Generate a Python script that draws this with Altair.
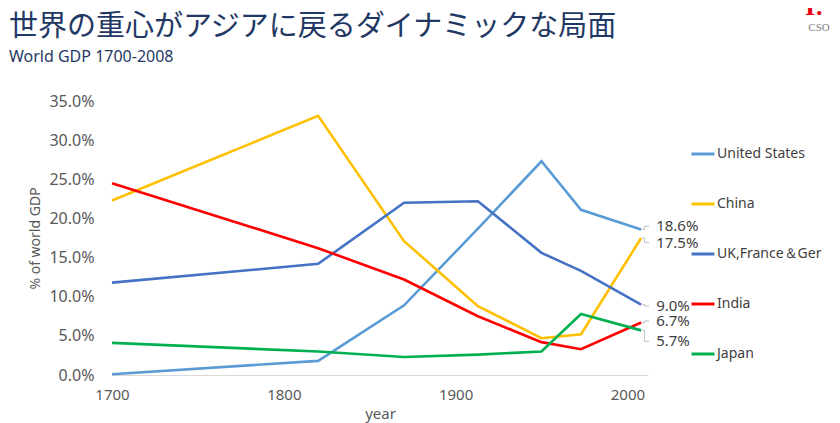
import altair as alt
import pandas as pd

years = [1700, 1820, 1870, 1913, 1950, 1973, 2008]
series_names = ["United States", "China", "UK,France＆Ger", "India", "Japan"]
us = [0.1, 1.8, 8.9, 18.7, 27.3, 21.1, 18.6]
china = [22.3, 33.1, 17.1, 8.8, 4.7, 5.2, 17.5]
ukfg = [11.8, 14.2, 22.0, 22.2, 15.6, 13.3, 9.0]
india = [24.5, 16.2, 12.2, 7.5, 4.2, 3.3, 6.7]
japan = [4.1, 3.0, 2.3, 2.6, 3.0, 7.8, 5.7]
colors = ["#5B9BD5", "#FFC000", "#4472C4", "#FF0000", "#00B050"]
# vertical nudge (percentage points) of the end labels so they don't overlap
label_nudge = [0.4, -0.6, -0.2, 0.2, -1.4]
y_ticks = [0, 0.05, 0.1, 0.15, 0.2, 0.25, 0.3, 0.35]
x_ticks = [1700, 1800, 1900, 2000]

title_text = "世界の重心がアジアに戻るダイナミックな局面"
subtitle_text = "World GDP 1700-2008"

all_vals = [us, china, ukfg, india, japan]
rows = []
for name, vals in zip(series_names, all_vals):
    for y, v in zip(years, vals):
        rows.append({"year": y, "share": v / 100.0, "series": name})
df = pd.DataFrame(rows)

end_rows = []
lead_rows = []
for i, (name, vals) in enumerate(zip(series_names, all_vals)):
    v = vals[-1] / 100.0
    lab = (vals[-1] + label_nudge[i]) / 100.0
    end_rows.append({"year": years[-1], "share": lab, "series": name,
                     "txt": f"{vals[-1]:.1f}%"})
    for k, (xx, yy) in enumerate([(2008.6, v), (2010.0, v), (2010.0, lab), (2012.6, lab)]):
        lead_rows.append({"year": xx, "share": yy, "series": name, "o": k})
end_df = pd.DataFrame(end_rows)
lead_df = pd.DataFrame(lead_rows)

FONT = "Noto Sans"
xscale = alt.Scale(domain=[1700, 2012], nice=False, zero=False)
yscale = alt.Scale(domain=[0, 0.35], nice=False)

x_axis = alt.Axis(values=x_ticks, format="d", title="year",
                  grid=False, ticks=False, domainColor="#D9D9D9", domainWidth=1.2,
                  labelColor="#595959", labelFontSize=15, labelFont=FONT,
                  labelPadding=12, labelFlush=False, labelOverlap=False,
                  titleFont=FONT, titleFontSize=15,
                  titleFontWeight="normal", titleColor="#595959", titlePadding=4)
y_axis = alt.Axis(values=y_ticks, format=".1%",
                  title="% of world GDP", grid=False, ticks=False, domain=False,
                  labelColor="#595959", labelFontSize=16, labelFont=FONT,
                  labelPadding=18, labelFlush=False, labelOverlap=False,
                  titleFont=FONT, titleFontSize=14,
                  titleFontWeight="normal", titleColor="#595959", titlePadding=6)

X = alt.X("year:Q", scale=xscale, axis=x_axis, title="year")
Y = alt.Y("share:Q", scale=yscale, axis=y_axis, title="% of world GDP")

lines = alt.Chart(df).mark_line(strokeWidth=2.6).encode(
    x=X, y=Y,
    color=alt.Color("series:N", sort=series_names,
                    scale=alt.Scale(domain=series_names, range=colors),
                    legend=alt.Legend(title=None, orient="none", legendX=578, legendY=40,
                                      symbolType="stroke", symbolStrokeWidth=3, symbolSize=529,
                                      labelFontSize=14, labelFont=FONT, labelColor="#404040",
                                      labelOffset=1, rowPadding=30)),
    detail="series:N",
)

leaders = alt.Chart(lead_df).mark_line(strokeWidth=1, color="#BFBFBF").encode(
    x=X, y=Y,
    detail="series:N",
    order="o:Q",
)

labels = alt.Chart(end_df).mark_text(align="left", baseline="middle", dx=15,
                                     fontSize=15, font=FONT, color="#404040").encode(
    x=X, y=Y,
    text="txt:N",
)

tdf = pd.DataFrame({"t": [title_text]})
title = alt.Chart(tdf).mark_text(align="left", baseline="middle", fontSize=29,
                                 font="Noto Sans CJK JP", color="#1F3864").encode(
    x=alt.value(-103), y=alt.value(-74), text="t:N")
sdf = pd.DataFrame({"t": [subtitle_text]})
subtitle = alt.Chart(sdf).mark_text(align="left", baseline="middle", fontSize=16,
                                    font=FONT, color="#1F3864").encode(
    x=alt.value(-103), y=alt.value(-44), text="t:N")
cdf = pd.DataFrame({"t": ["CSO"]})
cso = alt.Chart(cdf).mark_text(align="center", baseline="middle", fontSize=11,
                               font="Liberation Serif", color="#7F7F7F").encode(
    x=alt.value(707), y=alt.value(-73), text="t:N")
ldf = pd.DataFrame({"t": ["I:"]})
logo = alt.Chart(ldf).mark_text(align="left", baseline="alphabetic", fontSize=26,
                                font="Liberation Serif", fontWeight="bold",
                                color="#E60012").encode(
    x=alt.value(693), y=alt.value(-86), text="t:N")

chart = alt.layer(lines, leaders, labels, title, subtitle, cso, logo).properties(
    width=536, height=274,
    background="white",
    autosize=alt.AutoSizeParams(type="none"),
    padding={"left": 104, "top": 93, "right": 184, "bottom": 48},
).configure_view(strokeWidth=0)

chart.save("out.html", embed_options={"renderer": "svg", "actions": False})
